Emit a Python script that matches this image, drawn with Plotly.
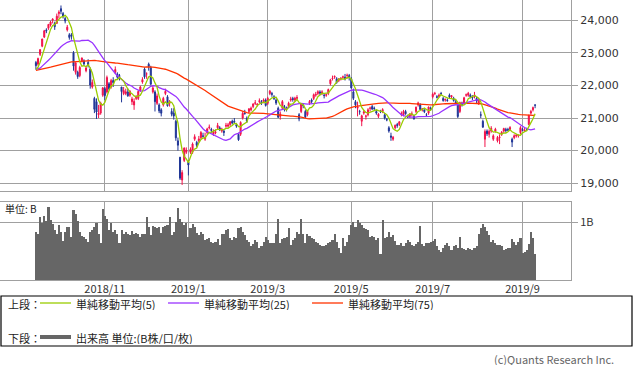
import pandas as pd
import plotly.graph_objects as go

# ---------------- data ----------------
# closes before the visible window (used only to warm up the moving averages)
prior_close = [22018, 22202,
    22171, 22475, 22539, 22625, 22823, 22694, 22804, 22878, 22966, 22738, 22851, 22680, 22278, 22555, 22693, 22516, 22338, 22342, 22271, 22270, 22304,
    21811, 21785, 21717, 21546, 21788, 22052, 22196, 21932, 22187, 22597, 22697, 22794, 22764, 22697, 22396, 22510, 22614, 22586, 22712, 22544, 22553,
    22746, 22512, 22525, 22507, 22662, 22644, 22598, 22298, 21857, 22356, 22204, 22192, 22270, 22199, 22219, 22362, 22410, 22601, 22799, 22813, 22848, 22869, 22865,
    22707, 22696, 22580, 22487, 22307, 22373, 22664]

open_ = [
    22700, 22650, 22950, 23200, 23480, 23700, 23750, 23850, 24000, 23900, 23900,
    24200, 24350, 24200, 24050, 23700, 23550, 23550, 23000, 22400, 22400, 22300, 22750, 22750, 22450, 22700, 22500, 21950, 21600, 21500, 21100, 21150, 21700,
    21900, 21800, 22050, 21950, 22150, 22400, 22350, 22300, 21950, 21750, 21750, 21800, 21700, 21500, 21400, 21600, 21600, 21850, 22100, 22500, 22350,
    22650, 22550, 21800, 21800, 21450, 21400, 21250, 21400, 21750, 21650, 21450, 21200, 21150, 20900, 20300, 19800, 19100, 19700, 19950,
    19650, 19950, 19950, 20350, 20250, 20300, 20400, 20450, 20350, 20550, 20700, 20650, 20500, 20550, 20700, 20700, 20600, 20600, 20750,
    20750, 20800, 20900, 20900, 20800, 20500, 20500, 21000, 21150, 21000, 21200, 21250, 21350, 21450, 21400, 21500, 21500, 21500, 21550,
    21450, 21750, 21750, 21650, 21550, 21300, 21050, 21300, 21350, 21300, 21350, 21550, 21600, 21550, 21600, 21100, 21200, 21400, 21200, 21100,
    21450, 21550, 21600, 21700, 21750, 21800, 21750, 21700, 21700, 21750, 22050, 22200, 22250, 22200, 22150, 22200, 22250, 22250, 22300, 22300,
    22200, 21800, 21500, 21300, 21200, 20900, 21150, 21050, 21100, 21300, 21350, 21300, 21200, 21050, 21200, 21200, 21100, 20950, 20700,
    20450, 20350, 20700, 20800, 20800, 21100, 21100, 21200, 21050, 21050, 21100, 21050, 21200, 21400, 21400, 21250, 21250, 21100, 21150, 21300,
    21650, 21750, 21650, 21650, 21750, 21600, 21550, 21550, 21700, 21650, 21600, 21500, 21400, 21200, 21450, 21450, 21700, 21700, 21700, 21650, 21650, 21600,
    21450, 21100, 20900, 20350, 20600, 20500, 20600, 20350, 20600, 20300, 20400, 20500, 20600, 20650, 20650, 20650, 20350, 20400, 20450, 20450, 20550,
    20650, 20600, 20650, 20800, 21150, 21250, 21400]

high = [
    22750, 22850, 23110, 23430, 23700, 23750, 23880, 23980, 24050, 23950, 24200,
    24300, 24448, 24250, 24100, 23850, 23600, 23600, 23050, 22700, 22450, 22600, 22850, 22800, 22600, 22800, 22550, 22180, 21650, 21600, 21400, 21500, 21950,
    21950, 22300, 22100, 22200, 22250, 22580, 22400, 22350, 21950, 21950, 21900, 21900, 21850, 21650, 21600, 21700, 21850, 21990, 22250, 22550, 22400,
    22698, 22600, 22000, 21850, 21750, 21450, 21300, 21650, 21900, 21700, 21550, 21300, 21300, 20950, 20400, 19800, 19400, 20100, 20100,
    19700, 20100, 20250, 20500, 20300, 20450, 20600, 20550, 20550, 20700, 20800, 20700, 20650, 20650, 20850, 20750, 20700, 20650, 20850,
    20850, 20900, 20950, 21000, 20850, 20550, 20900, 21200, 21250, 21050, 21300, 21350, 21450, 21550, 21450, 21600, 21550, 21600, 21600,
    21650, 21860, 21800, 21700, 21600, 21350, 21200, 21550, 21400, 21350, 21500, 21650, 21650, 21650, 21700, 21150, 21450, 21450, 21250, 21250,
    21550, 21600, 21750, 21800, 21850, 21850, 21850, 21750, 21750, 21900, 22200, 22300, 22300, 22250, 22220, 22250, 22300, 22350, 22360, 22350,
    22250, 21900, 21550, 21500, 21250, 21100, 21250, 21100, 21300, 21350, 21400, 21350, 21250, 21150, 21250, 21300, 21150, 21000, 20750,
    20550, 20450, 20800, 20850, 20900, 21200, 21250, 21250, 21100, 21150, 21200, 21100, 21350, 21500, 21450, 21300, 21250, 21150, 21350, 21350,
    21780, 21800, 21700, 21750, 21800, 21650, 21600, 21600, 21750, 21700, 21650, 21550, 21400, 21500, 21500, 21650, 21750, 21800, 21750, 21700, 21800, 21650,
    21600, 21200, 20950, 20650, 20650, 20650, 20750, 20500, 20700, 20450, 20500, 20600, 20700, 20700, 20700, 20750, 20400, 20500, 20500, 20500, 20750,
    20700, 20700, 20700, 21100, 21250, 21350, 21420]

low = [
    22480, 22600, 22900, 23170, 23450, 23600, 23700, 23800, 23900, 23700, 23880,
    24050, 24180, 24050, 23900, 23650, 23400, 23400, 22450, 22330, 22200, 22250, 22700, 22600, 22400, 22550, 21900, 21900, 21150, 20970, 21000, 21100, 21650,
    21550, 21750, 21850, 21900, 21950, 22350, 22200, 22150, 21480, 21700, 21700, 21650, 21650, 21400, 21250, 21550, 21550, 21800, 22050, 22200, 22200,
    22450, 22000, 21750, 21200, 21400, 21150, 21050, 21350, 21700, 21350, 21350, 21050, 20950, 20300, 20000, 19100, 18948, 19650, 19900,
    19241, 19900, 19900, 20300, 20100, 20250, 20350, 20400, 20300, 20500, 20650, 20550, 20450, 20500, 20650, 20600, 20550, 20450, 20700,
    20700, 20750, 20800, 20850, 20700, 20300, 20450, 20950, 21100, 20850, 21150, 21200, 21300, 21400, 21350, 21450, 21400, 21450, 21350,
    21400, 21700, 21650, 21550, 21400, 21000, 20950, 21250, 21200, 21200, 21300, 21500, 21500, 21500, 21550, 20900, 21150, 21300, 21000, 21050,
    21400, 21450, 21550, 21650, 21700, 21700, 21700, 21600, 21650, 21700, 22000, 22150, 22200, 22050, 22100, 22150, 22200, 22150, 22200, 22150,
    21900, 21550, 21300, 21050, 21100, 20750, 21100, 20950, 21050, 21200, 21250, 21250, 21100, 21000, 21150, 21150, 20950, 20900, 20550,
    20300, 20300, 20650, 20700, 20750, 21050, 21050, 21100, 21000, 21000, 21050, 20950, 21150, 21350, 21250, 21200, 21150, 21050, 21100, 21250,
    21600, 21700, 21600, 21650, 21700, 21500, 21500, 21500, 21600, 21600, 21500, 21450, 21000, 21150, 21350, 21400, 21650, 21650, 21600, 21550, 21600, 21450,
    21400, 21000, 20700, 20110, 20450, 20400, 20550, 20300, 20550, 20250, 20200, 20450, 20550, 20550, 20600, 20600, 20110, 20350, 20400, 20400, 20500,
    20600, 20580, 20600, 20780, 21100, 21200, 21300]

close = [
    22604, 22821, 23094, 23420, 23672, 23674, 23869, 23940, 24033, 23796, 24120,
    24245, 24270, 24110, 23975, 23783, 23469, 23506, 22590, 22694, 22271, 22549, 22841, 22658, 22532, 22614, 22010, 22091, 21268, 21184, 21149, 21457, 21920,
    21687, 22243, 21898, 22147, 22085, 22486, 22250, 22269, 21810, 21846, 21803, 21680, 21821, 21583, 21507, 21646, 21812, 21952, 22177, 22262, 22351,
    22574, 22036, 21919, 21501, 21678, 21219, 21148, 21602, 21816, 21374, 21506, 21115, 21060, 20392, 20166, 19155, 19327, 20077, 20014,
    19561, 20038, 20204, 20427, 20163, 20359, 20555, 20442, 20402, 20666, 20719, 20622, 20593, 20574, 20773, 20649, 20664, 20556, 20773,
    20788, 20883, 20844, 20874, 20751, 20333, 20864, 21144, 21139, 20900, 21281, 21302, 21431, 21464, 21425, 21528, 21449, 21556, 21385,
    21602, 21822, 21726, 21596, 21456, 21025, 21125, 21503, 21290, 21287, 21451, 21584, 21566, 21608, 21627, 20977, 21428, 21378, 21033, 21206,
    21509, 21505, 21713, 21724, 21807, 21761, 21802, 21688, 21711, 21871, 22169, 22221, 22277, 22090, 22200, 22218, 22260, 22200, 22307, 22258,
    21923, 21602, 21402, 21344, 21191, 21067, 21188, 21062, 21250, 21301, 21272, 21283, 21151, 21117, 21182, 21260, 21003, 20942, 20601,
    20410, 20408, 20776, 20774, 20884, 21134, 21204, 21129, 21032, 21116, 21124, 20972, 21333, 21462, 21258, 21285, 21193, 21086, 21338, 21275,
    21729, 21754, 21638, 21702, 21746, 21534, 21565, 21533, 21643, 21685, 21535, 21469, 21046, 21466, 21416, 21620, 21709, 21756, 21658, 21616, 21709, 21521,
    21540, 21087, 20720, 20585, 20516, 20593, 20684, 20455, 20655, 20405, 20418, 20563, 20677, 20618, 20628, 20710, 20261, 20456, 20479, 20460, 20704,
    20620, 20625, 20649, 21085, 21199, 21318, 21392]

volume_b = [
    0.83, 0.80, 1.09, 0.99, 1.10, 1.02, 1.26, 1.04, 0.97, 0.87,
    0.80, 0.95, 0.83, 0.68, 0.83, 0.92, 0.92, 0.75, 1.21, 1.14,
    1.01, 0.83, 0.76, 0.74, 0.70, 0.66, 0.83, 0.86, 0.91, 0.98,
    0.80, 0.63, 1.22, 1.10, 1.06, 0.86, 0.99, 0.83, 0.87, 0.80,
    0.63, 0.86, 0.80, 0.83, 0.80, 0.78, 0.85, 0.80, 0.81, 0.79,
    0.75, 0.80, 0.80, 1.09, 0.92, 0.78, 0.93, 0.92, 0.89, 0.92,
    0.81, 0.92, 0.93, 0.95, 1.09, 0.77, 0.83, 1.00, 1.25, 1.06,
    1.00, 0.95, 0.99, 0.75, 0.89, 0.96, 0.92, 0.81, 0.78,
    0.83, 0.80, 0.69, 0.70, 0.72, 0.65, 0.64, 0.66, 0.70, 0.60,
    0.80, 0.79, 0.86, 0.88, 0.72, 0.69, 0.75, 0.72, 0.89, 0.91,
    0.83, 0.78, 0.69, 0.66, 0.58, 0.62, 0.69, 0.66, 0.55, 0.58,
    0.65, 0.75, 0.69, 0.63, 0.63, 0.63, 0.80, 1.06, 0.63, 0.71,
    0.72, 0.74, 0.89, 0.60, 0.69, 0.72, 0.83, 0.80, 1.06, 0.80,
    0.63, 0.80, 0.76, 0.72, 0.70, 0.66, 0.63, 0.60, 0.58, 0.58,
    0.60, 0.63, 0.66, 0.69, 0.80, 0.66, 0.55, 0.46, 0.72, 0.58,
    0.66, 0.78, 0.95, 1.00, 0.92, 1.03, 0.98, 0.95, 0.89, 0.88,
    0.86, 0.75, 0.76, 0.75,
    0.69, 0.72, 0.45, 1.03, 0.72, 0.75, 0.83, 0.75, 0.78, 0.68,
    0.60, 0.60, 0.63, 0.58, 0.64, 0.69, 0.66, 0.60, 0.58, 0.62,
    0.66, 0.93, 0.62, 0.58, 0.63, 0.64, 0.66, 0.68, 0.70, 0.58,
    0.52, 0.49, 0.55, 0.60, 0.63, 0.58, 0.52, 0.58, 0.60, 0.55,
    0.74, 0.55, 0.53, 0.52, 0.55, 0.53, 0.52, 0.55, 0.58, 0.80,
    0.90, 0.96, 0.92, 0.85, 0.78, 0.66, 0.69, 0.64, 0.60, 0.60,
    0.58, 0.52, 0.53, 0.55, 0.55, 0.70, 0.65, 0.60, 0.65, 0.72,
    0.46, 0.48, 0.52, 0.62, 0.83, 0.72, 0.45]

month_tick_index = [33, 73, 111, 151, 190, 233]
month_tick_labels = ["2018/11", "2019/1", "2019/3", "2019/5", "2019/7", "2019/9"]
price_ticks = [19000, 20000, 21000, 22000, 23000, 24000]

n = len(close)
assert len(open_) == n and len(high) == n and len(low) == n and len(volume_b) == n
for k in range(n):
    assert low[k] <= min(open_[k], close[k]) and high[k] >= max(open_[k], close[k]), k

idx = list(range(n))
all_close = pd.Series(prior_close + close, dtype=float)
ma5 = all_close.rolling(5).mean().iloc[-n:].tolist()
ma25 = all_close.rolling(25).mean().iloc[-n:].tolist()
ma75 = all_close.rolling(75).mean().iloc[-n:].tolist()

# ---------------- style ----------------
UP = "#F2124A"
DOWN = "#1F3596"
C5 = "#99CC00"
C25 = "#9933FF"
C75 = "#FF3300"
VOLC = "#666666"
GRID = "#A0A0A0"
W, H = 633, 373
ML, MR, MT, MB = 0, 62, 0, 93
PW, PH = W - ML - MR, H - MT - MB
JP = "Noto Sans CJK JP"

def px(x):
    return (x - ML) / PW

def py(y):
    return (H - MB - y) / PH

fig = go.Figure()
fig.add_trace(go.Candlestick(
    x=idx, open=open_, high=high, low=low, close=close,
    increasing=dict(line=dict(color=UP, width=1), fillcolor=UP),
    decreasing=dict(line=dict(color=DOWN, width=1), fillcolor=DOWN),
    whiskerwidth=0, showlegend=False, hoverinfo="skip", xaxis="x", yaxis="y"))
for ser, col in ((ma75, C75), (ma25, C25), (ma5, C5)):
    fig.add_trace(go.Scatter(x=idx, y=ser, mode="lines", line=dict(color=col, width=1.3),
                             showlegend=False, hoverinfo="skip", xaxis="x", yaxis="y"))
fig.add_trace(go.Bar(x=idx, y=volume_b, marker=dict(color=VOLC, line=dict(width=0)),
                     width=1.0, showlegend=False, hoverinfo="skip", xaxis="x2", yaxis="y2"))

xr = [-17.2, 256.2]
common_x = dict(range=xr, tickvals=month_tick_index, showgrid=True, gridcolor=GRID, gridwidth=1,
                showline=True, mirror=True, linecolor=GRID, linewidth=1, zeroline=False,
                rangeslider=dict(visible=False), fixedrange=True)
fig.update_layout(
    width=W, height=H, margin=dict(l=ML, r=MR, t=MT, b=MB, pad=0),
    paper_bgcolor="white", plot_bgcolor="white", showlegend=False, bargap=0,
    hovermode=False,
    xaxis=dict(common_x, domain=[0, 1], anchor="y", showticklabels=False, ticks=""),
    xaxis2=dict(common_x, domain=[0, 1], anchor="y2", ticktext=month_tick_labels,
                showticklabels=True, ticks="", ticklabelstandoff=-1,
                tickfont=dict(family=JP, size=11, color="#333")),
    yaxis=dict(domain=[py(191), 1], range=[18763, 24616], side="right", tickvals=price_ticks,
               tickformat=",d", showgrid=True, gridcolor=GRID, gridwidth=1, ticks="outside",
               ticklen=6, tickcolor=GRID, showline=True, mirror=True, linecolor=GRID,
               zeroline=False, fixedrange=True,
               tickfont=dict(family="DejaVu Sans", size=11, color="#333")),
    yaxis2=dict(domain=[0, py(202)], range=[0, 1.345], side="right", tickvals=[1.0],
                ticktext=["1B"], showgrid=True, gridcolor=GRID, gridwidth=1, ticks="outside",
                ticklen=6, tickcolor=GRID, showline=True, mirror=True, linecolor=GRID,
                zeroline=False, fixedrange=True,
                tickfont=dict(family=JP, size=11, color="#333")),
)

ann = []
def text(x, y, s, anchor="left", size=11, color="#222"):
    ann.append(dict(x=px(x), y=py(y), xref="paper", yref="paper", text=s, showarrow=False,
                    xanchor=anchor, yanchor="middle", height=13, borderpad=0,
                    font=dict(family=JP, size=size, color=color)))

text(4, 208, "単位: B", size=10)
text(7, 303, "上段：")
text(75, 303, "単純移動平均(5)")
text(203, 303, "単純移動平均(25)")
text(347, 303, "単純移動平均(75)")
text(7, 337, "下段：")
text(75, 337, "出来高 単位:(B株/口/枚)")
text(615, 358, "(c)Quants Research Inc.", anchor="right", size=11, color="#666")
fig.update_layout(annotations=ann)

shapes = [dict(type="rect", xref="paper", yref="paper", x0=px(1), x1=px(632), y0=py(296), y1=py(346),
               line=dict(color="black", width=1.2), fillcolor="rgba(0,0,0,0)")]
for x0, col in ((40, C5), (168, C25), (312, C75)):
    shapes.append(dict(type="line", xref="paper", yref="paper", x0=px(x0), x1=px(x0 + 31),
                       y0=py(303), y1=py(303), line=dict(color=col, width=1.3)))
shapes.append(dict(type="line", xref="paper", yref="paper", x0=px(40), x1=px(71),
                   y0=py(337), y1=py(337), line=dict(color=VOLC, width=4)))
fig.update_layout(shapes=shapes)

fig.write_html("out.html", config={"displayModeBar": False, "staticPlot": True},
               post_script="document.body.style.margin='0';document.body.style.overflow='hidden';")
